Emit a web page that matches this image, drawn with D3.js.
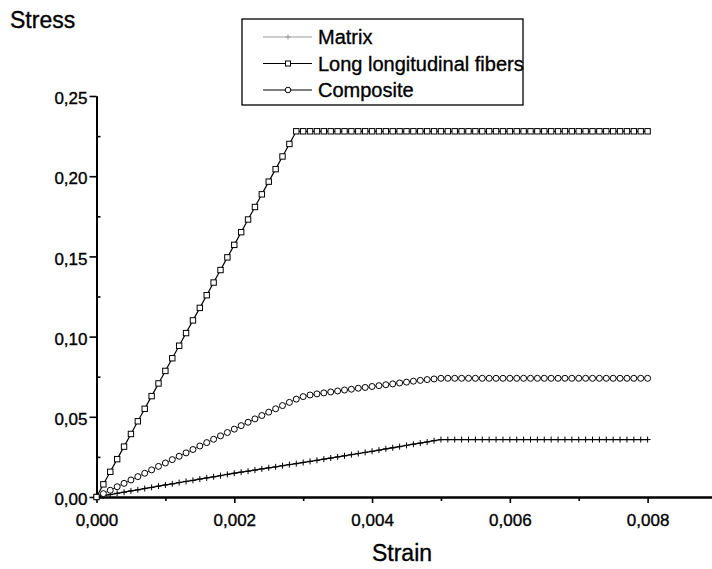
<!DOCTYPE html>
<html>
<head>
<meta charset="utf-8">
<script src="https://cdn.jsdelivr.net/npm/d3@7"></script>
<style>
  body { margin: 0; background: #fff; }
  svg { display: block; font-family: Arial, "Liberation Sans", sans-serif; }
  text { stroke: #000; stroke-width: 0.35px; fill: #000; }
</style>
</head>
<body>
<svg id="chart" width="712" height="569"></svg>
<script>
// strain grid (one marker per 0.0001)
var strain = [
  0.0000, 0.0001, 0.0002, 0.0003, 0.0004, 0.0005, 0.0006, 0.0007, 0.0008, 0.0009,
  0.0010, 0.0011, 0.0012, 0.0013, 0.0014, 0.0015, 0.0016, 0.0017, 0.0018, 0.0019,
  0.0020, 0.0021, 0.0022, 0.0023, 0.0024, 0.0025, 0.0026, 0.0027, 0.0028, 0.0029,
  0.0030, 0.0031, 0.0032, 0.0033, 0.0034, 0.0035, 0.0036, 0.0037, 0.0038, 0.0039,
  0.0040, 0.0041, 0.0042, 0.0043, 0.0044, 0.0045, 0.0046, 0.0047, 0.0048, 0.0049,
  0.0050, 0.0051, 0.0052, 0.0053, 0.0054, 0.0055, 0.0056, 0.0057, 0.0058, 0.0059,
  0.0060, 0.0061, 0.0062, 0.0063, 0.0064, 0.0065, 0.0066, 0.0067, 0.0068, 0.0069,
  0.0070, 0.0071, 0.0072, 0.0073, 0.0074, 0.0075, 0.0076, 0.0077, 0.0078, 0.0079,
  0.0080
];

var matrix = [
  0.0000, 0.0008, 0.0015, 0.0023, 0.0030, 0.0038, 0.0045, 0.0053, 0.0060, 0.0068,
  0.0075, 0.0082, 0.0090, 0.0097, 0.0104, 0.0112, 0.0119, 0.0126, 0.0133, 0.0141,
  0.0148, 0.0155, 0.0161, 0.0168, 0.0175, 0.0182, 0.0188, 0.0195, 0.0202, 0.0208,
  0.0215, 0.0222, 0.0229, 0.0236, 0.0243, 0.0250, 0.0257, 0.0264, 0.0271, 0.0278,
  0.0285, 0.0292, 0.0300, 0.0307, 0.0314, 0.0322, 0.0329, 0.0336, 0.0343, 0.0351,
  0.0358, 0.0358, 0.0358, 0.0358, 0.0358, 0.0358, 0.0358, 0.0358, 0.0358, 0.0358,
  0.0358, 0.0358, 0.0358, 0.0358, 0.0358, 0.0358, 0.0358, 0.0358, 0.0358, 0.0358,
  0.0358, 0.0358, 0.0358, 0.0358, 0.0358, 0.0358, 0.0358, 0.0358, 0.0358, 0.0358,
  0.0358
];

var fibers = [
  0.0000, 0.0079, 0.0157, 0.0236, 0.0314, 0.0393, 0.0472, 0.0550, 0.0629, 0.0708,
  0.0786, 0.0865, 0.0943, 0.1022, 0.1101, 0.1179, 0.1258, 0.1337, 0.1415, 0.1494,
  0.1572, 0.1651, 0.1730, 0.1808, 0.1887, 0.1966, 0.2044, 0.2123, 0.2201, 0.2280,
  0.2280, 0.2280, 0.2280, 0.2280, 0.2280, 0.2280, 0.2280, 0.2280, 0.2280, 0.2280,
  0.2280, 0.2280, 0.2280, 0.2280, 0.2280, 0.2280, 0.2280, 0.2280, 0.2280, 0.2280,
  0.2280, 0.2280, 0.2280, 0.2280, 0.2280, 0.2280, 0.2280, 0.2280, 0.2280, 0.2280,
  0.2280, 0.2280, 0.2280, 0.2280, 0.2280, 0.2280, 0.2280, 0.2280, 0.2280, 0.2280,
  0.2280, 0.2280, 0.2280, 0.2280, 0.2280, 0.2280, 0.2280, 0.2280, 0.2280, 0.2280,
  0.2280
];

var composite = [
  0.0000, 0.0021, 0.0042, 0.0064, 0.0085, 0.0106, 0.0127, 0.0148, 0.0169, 0.0191,
  0.0212, 0.0233, 0.0254, 0.0275, 0.0296, 0.0318, 0.0339, 0.0360, 0.0381, 0.0402,
  0.0423, 0.0445, 0.0466, 0.0487, 0.0508, 0.0529, 0.0550, 0.0570, 0.0590, 0.0610,
  0.0626, 0.0636, 0.0643, 0.0649, 0.0655, 0.0661, 0.0667, 0.0672, 0.0678, 0.0683,
  0.0689, 0.0694, 0.0700, 0.0705, 0.0711, 0.0716, 0.0722, 0.0727, 0.0732, 0.0736,
  0.0740, 0.0740, 0.0740, 0.0740, 0.0740, 0.0740, 0.0740, 0.0740, 0.0740, 0.0740,
  0.0740, 0.0740, 0.0740, 0.0740, 0.0740, 0.0740, 0.0740, 0.0740, 0.0740, 0.0740,
  0.0740, 0.0740, 0.0740, 0.0740, 0.0740, 0.0740, 0.0740, 0.0740, 0.0740, 0.0740,
  0.0740
];

var xTicks = [0, 0.002, 0.004, 0.006, 0.008];
var xMinor = [0.001, 0.003, 0.005, 0.007, 0.009];
var yTicks = [0, 0.05, 0.10, 0.15, 0.20, 0.25];
var yMinor = [0.025, 0.075, 0.125, 0.175, 0.225];
var seriesNames = ["Matrix", "Long longitudinal fibers", "Composite"];

var svg = d3.select("#chart");

var x = d3.scaleLinear().domain([0, 0.009]).range([96.5, 716.5]);
var y = d3.scaleLinear().domain([0, 0.25]).range([497, 96]);

var comma = function (fmt) {
  return function (d) { return d3.format(fmt)(d).replace(".", ","); };
};

// x axis
var gx = svg.append("g").attr("transform", "translate(0," + y(0) + ")");
gx.call(d3.axisBottom(x).tickValues(xTicks).tickFormat(comma(".3f")).tickSize(6).tickSizeOuter(0));
gx.append("g").call(d3.axisBottom(x).tickValues(xMinor).tickFormat("").tickSize(4).tickSizeOuter(0));
gx.selectAll(".domain").attr("stroke", "#000").attr("stroke-width", 2);
gx.selectAll(".tick line").attr("stroke", "#000").attr("stroke-width", 1.6);
gx.selectAll(".tick text").attr("font-size", 17).attr("dy", "1.2em");

// y axis
var gy = svg.append("g").attr("transform", "translate(" + x(0) + ",0)");
gy.call(d3.axisLeft(y).tickValues(yTicks).tickFormat(comma(".2f")).tickSize(7).tickSizeOuter(0));
gy.append("g").call(d3.axisRight(y).tickValues(yMinor).tickFormat("").tickSize(4).tickSizeOuter(0));
gy.selectAll(".domain").attr("stroke", "#000").attr("stroke-width", 2);
gy.selectAll(".tick line").attr("stroke", "#000").attr("stroke-width", 1.6);
gy.selectAll(".tick text").attr("font-size", 17).attr("x", -9).attr("dy", "0.45em");

svg.append("text").attr("x", 10).attr("y", 28)
  .attr("font-size", 23).text("Stress");
svg.append("text").attr("x", 402).attr("y", 561).attr("text-anchor", "middle")
  .attr("font-size", 23).text("Strain");

// series
var plot = svg.append("g");
var line = function (vals) {
  return d3.line().x(function (d, i) { return x(strain[i]); }).y(function (d) { return y(d); })(vals);
};

var plus = function (g, cx, cy, s, col) {
  g.append("path").attr("d", "M" + (cx - s) + "," + cy + "H" + (cx + s) + "M" + cx + "," + (cy - s) + "V" + (cy + s))
    .attr("stroke", col).attr("stroke-width", 1).attr("fill", "none");
};

plot.append("path").attr("d", line(matrix)).attr("fill", "none").attr("stroke", "#000").attr("stroke-width", 1.3);
matrix.forEach(function (d, i) { plus(plot, x(strain[i]), y(d), 3, "#000"); });

plot.append("path").attr("d", line(composite)).attr("fill", "none").attr("stroke", "#000").attr("stroke-width", 0.8);
plot.selectAll("circle.comp").data(composite).enter().append("circle")
  .attr("class", "comp")
  .attr("cx", function (d, i) { return x(strain[i]); })
  .attr("cy", function (d) { return y(d); })
  .attr("r", 3).attr("fill", "#fff").attr("stroke", "#000").attr("stroke-width", 1);

plot.append("path").attr("d", line(fibers)).attr("fill", "none").attr("stroke", "#000").attr("stroke-width", 1.2);
plot.selectAll("rect.fib").data(fibers).enter().append("rect")
  .attr("class", "fib")
  .attr("x", function (d, i) { return x(strain[i]) - 2.7; })
  .attr("y", function (d) { return y(d) - 2.7; })
  .attr("width", 5.4).attr("height", 5.4)
  .attr("fill", "#fff").attr("stroke", "#000").attr("stroke-width", 1);

// legend
var lg = svg.append("g");
lg.append("rect").attr("x", 242).attr("y", 19).attr("width", 281).attr("height", 86)
  .attr("fill", "#fff").attr("stroke", "#000").attr("stroke-width", 1.3);
seriesNames.forEach(function (name, i) {
  var cy = 37 + i * 26.5;
  lg.append("line").attr("x1", 263).attr("x2", 312).attr("y1", cy).attr("y2", cy)
    .attr("stroke", i === 0 ? "#999" : "#000").attr("stroke-width", 1.2);
  if (i === 0) plus(lg, 288, cy, 2.5, "#999");
  if (i === 1) lg.append("rect").attr("x", 285.5).attr("y", cy - 2.5).attr("width", 5).attr("height", 5)
    .attr("fill", "#fff").attr("stroke", "#000");
  if (i === 2) lg.append("circle").attr("cx", 288).attr("cy", cy).attr("r", 2.8)
    .attr("fill", "#fff").attr("stroke", "#000");
  lg.append("text").attr("x", 318).attr("y", cy + 7).attr("font-size", 20).text(name);
});
</script>
</body>
</html>
